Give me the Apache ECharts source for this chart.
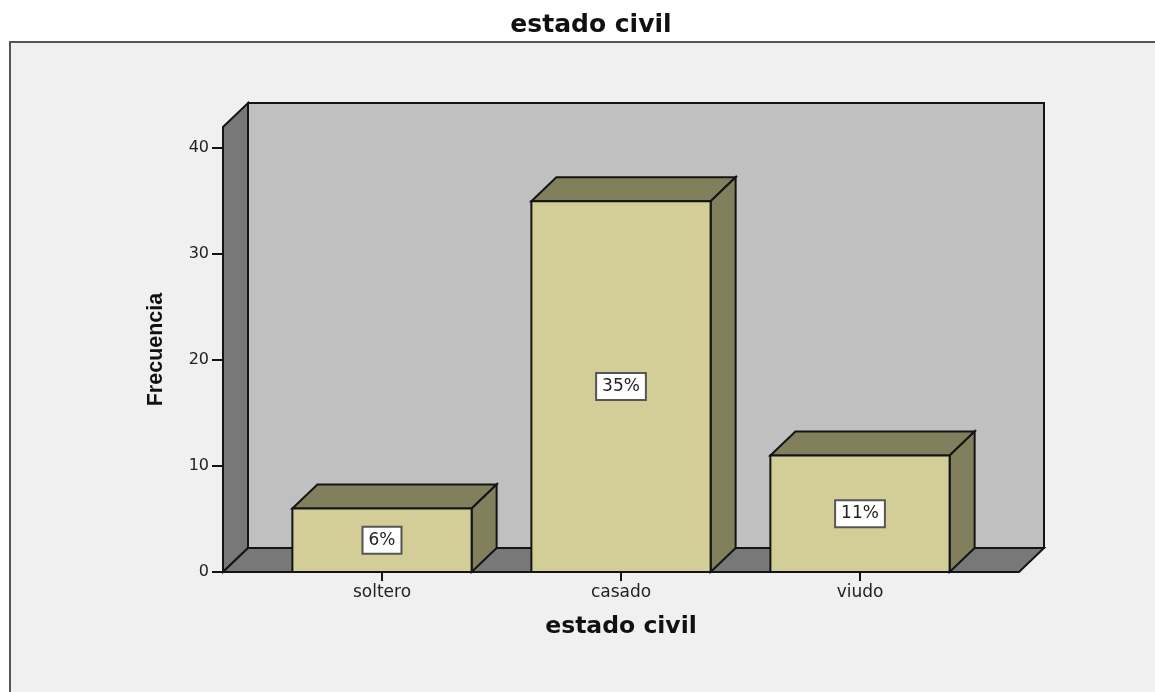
<!DOCTYPE html>
<html>
<head>
<meta charset="utf-8">
<title>estado civil</title>
<style>
    html, body { margin: 0; padding: 0; background: #ffffff; }
    #target { width: 1155px; height: 692px; }
</style>
<script src="https://cdn.jsdelivr.net/npm/echarts@6/dist/echarts.min.js"></script>
</head>
<body>
<div id="target"></div>
<script>
    const categories = ['soltero', 'casado', 'viudo']
    const frecuencia = [6, 35, 11]
    const porcentaje = ['6%', '35%', '11%']
    const yTicks = [0, 10, 20, 30, 40]

    const FONT = '"DejaVu Sans", sans-serif'
    const LINE = '#141414'
    const DX = 25   // 3d depth
    const DY = 24
    const PAD = 39.5 // walls reach past the outer category bands

    function poly(points, fill) {
        return {
            type: 'polygon',
            shape: { points: points },
            style: { fill: fill, stroke: LINE, lineWidth: 2, lineJoin: 'miter' }
        }
    }

    // back wall, left wall and floor
    function renderWalls(params) {
        const c = params.coordSys
        const l = c.x - PAD
        const r = c.x + c.width + PAD
        const t = c.y
        const b = c.y + c.height
        return {
            type: 'group',
            children: [
                poly([[l + DX, t - DY], [r + DX, t - DY], [r + DX, b - DY], [l + DX, b - DY]], '#c0c0c0'),
                poly([[l, t], [l + DX, t - DY], [l + DX, b - DY], [l, b]], '#787878'),
                poly([[l, b], [l + DX, b - DY], [r + DX, b - DY], [r, b]], '#787878')
            ]
        }
    }

    function renderBar(params, api) {
        const i = api.value(0)
        const top = api.coord([i, api.value(1)])
        const base = api.coord([i, 0])
        const w = api.size([1, 0])[0] * 0.75
        const l = top[0] - w / 2
        const r = top[0] + w / 2
        const mid = api.coord([i, api.value(1) / 2])
        return {
            type: 'group',
            children: [
                poly([[l, top[1]], [l + DX, top[1] - DY], [r + DX, top[1] - DY], [r, top[1]]], '#82805c'),
                poly([[r, top[1]], [r + DX, top[1] - DY], [r + DX, base[1] - DY], [r, base[1]]], '#82805c'),
                poly([[l, top[1]], [r, top[1]], [r, base[1]], [l, base[1]]], '#d3ce97'),
                {
                    type: 'text',
                    x: mid[0],
                    y: mid[1],
                    style: {
                        text: porcentaje[params.dataIndex],
                        align: 'center',
                        verticalAlign: 'middle',
                        font: '17px ' + FONT,
                        fill: '#222222',
                        backgroundColor: '#ffffff',
                        borderColor: '#555555',
                        borderWidth: 2,
                        padding: [4, 5, 4, 5]
                    }
                }
            ]
        }
    }

    const target = document.getElementById('target')
    const mChart = echarts.init(target)
    const option = {
        backgroundColor: '#ffffff',
        animation: false,
        title: {
            text: 'estado civil',
            left: 586,
            top: 8,
            textAlign: 'center',
            textStyle: { fontFamily: FONT, fontWeight: 'bold', fontSize: 25, color: '#111111' }
        },
        // panel behind the chart, runs off the right and bottom edges
        graphic: [{
            type: 'rect',
            z: -10,
            shape: { x: 10, y: 42, width: 1200, height: 700 },
            style: { fill: '#f0f0f0', stroke: '#555555', lineWidth: 2 }
        }],
        grid: { left: 262.5, width: 717, top: 127, height: 445 },
        xAxis: {
            type: 'category',
            data: categories,
            name: 'estado civil',
            nameLocation: 'middle',
            nameGap: 43,
            nameTextStyle: { fontFamily: FONT, fontWeight: 'bold', fontSize: 23.5, color: '#111111' },
            axisLine: { show: false },
            axisTick: { show: true, alignWithLabel: true, length: 9, lineStyle: { color: LINE, width: 2 } },
            axisLabel: { fontFamily: FONT, fontSize: 17, color: '#222222', margin: 12 }
        },
        yAxis: {
            type: 'value',
            min: 0,
            max: 42,
            offset: 39.5,
            name: 'Frecuencia',
            nameLocation: 'middle',
            nameGap: 56,
            nameRotate: 90,
            nameTextStyle: { fontFamily: '"Liberation Sans", sans-serif', fontWeight: 'bold', fontSize: 21.5, color: '#111111' },
            axisLine: { show: false },
            axisTick: { show: true, length: 11, customValues: yTicks, lineStyle: { color: LINE, width: 2 } },
            axisLabel: { customValues: yTicks, fontFamily: FONT, fontSize: 16, color: '#222222', margin: 14, padding: [3, 0, 0, 0] },
            splitLine: { show: false }
        },
        series: [{
            type: 'custom',
            z: 1,
            renderItem: renderWalls,
            data: [[0, 0]],
            silent: true
        }, {
            type: 'custom',
            z: 2,
            renderItem: renderBar,
            encode: { x: 0, y: 1 },
            data: frecuencia.map((v, i) => [i, v])
        }]
    }
    mChart.setOption(option)
    window.addEventListener('resize', function() {
        mChart.resize()
    })
</script>
</body>
</html>
